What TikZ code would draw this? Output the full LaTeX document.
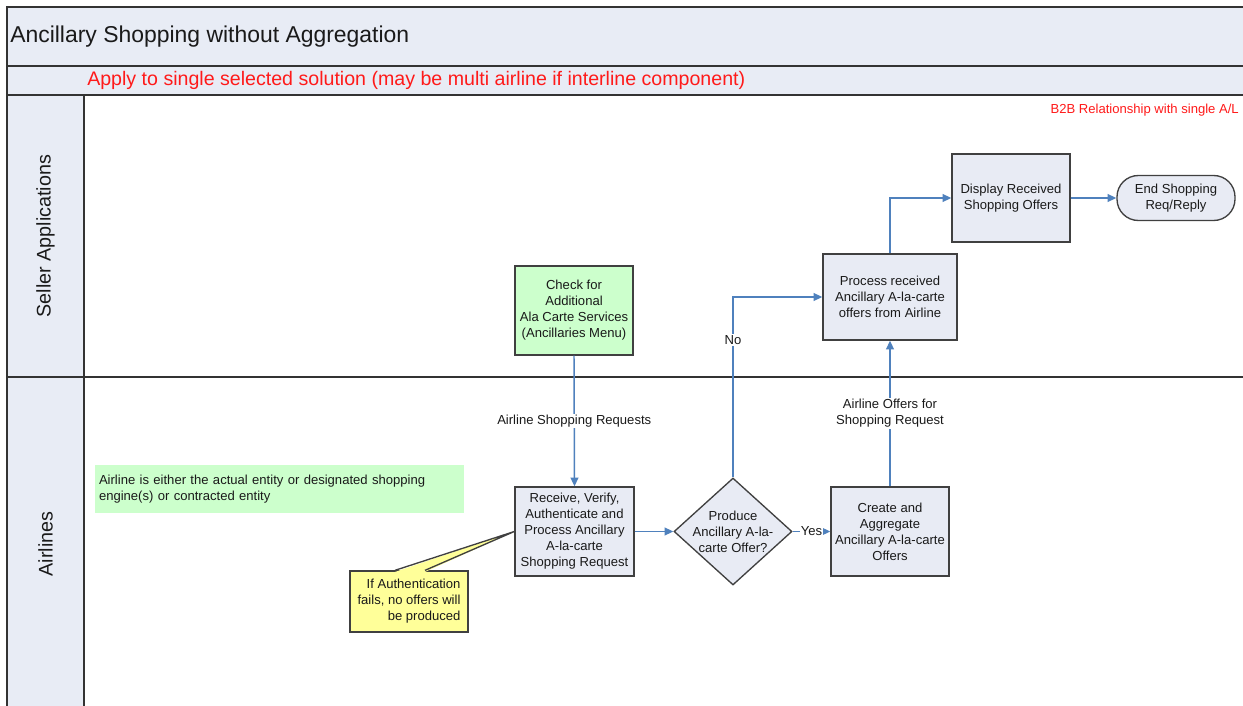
\documentclass[tikz,border=0pt]{standalone}
\usepackage{fontspec}
\setmainfont{Liberation Sans}
\usetikzlibrary{arrows.meta,shapes.geometric,calc}

\definecolor{lanefill}{HTML}{E8ECF5}
\definecolor{boxfill}{HTML}{E8EBF4}
\definecolor{greenfill}{HTML}{CCFFCC}
\definecolor{notefill}{HTML}{FFFF99}
\definecolor{flow}{HTML}{4F81BD}
\definecolor{framecol}{HTML}{333333}
\definecolor{boxline}{HTML}{404040}
\definecolor{alert}{HTML}{FF1A1A}
\definecolor{txt}{HTML}{1A1A1A}

\begin{document}
\begin{tikzpicture}[x=0.75pt,y=-0.75pt,
  every node/.style={font=\fontsize{9.8}{12}\selectfont, text=txt},
  procbox/.style={draw=boxline, line width=1pt, fill=boxfill, align=center,
    inner sep=2pt, minimum width=88.5pt, minimum height=66.75pt},
  menubox/.style={procbox, fill=greenfill},
  decision/.style={diamond, draw=boxline, line width=1pt, fill=boxfill,
    inner sep=0pt, minimum width=88.5pt, minimum height=80.25pt},
  terminal/.style={draw=boxline, line width=1pt, fill=boxfill, align=center,
    rounded corners=16pt, minimum width=88.5pt, minimum height=33.75pt},
  flowline/.style={draw=flow, line width=1.1pt, -{Triangle[length=6.5pt,width=5.8pt]}},
  flowlabel/.style={fill=white, inner sep=1pt, align=center},
  lanetitle/.style={rotate=90, font=\fontsize{14.8}{17}\selectfont},
  framerule/.style={draw=framecol, line width=1.2pt}
]
% page area
\clip (0,0) rectangle (1243,706);
\fill[white] (0,0) rectangle (1243,706);

% pool frame: title band, subtitle band, lane header column
\filldraw[fill=lanefill, framerule] (7,7) rectangle (1260,66);
\filldraw[fill=lanefill, framerule] (7,66) rectangle (1260,95);
\filldraw[fill=lanefill, framerule] (7,95) rectangle (84,720);
\draw[framerule] (84,95) -- (1260,95);
\draw[framerule] (7,377) -- (1260,377);

\node[anchor=west, inner sep=0pt, font=\fontsize{17.2}{20}\selectfont] (title) at (10,37)
  {Ancillary Shopping without Aggregation};
\node[anchor=west, inner sep=0pt, text=alert, font=\fontsize{14.7}{17}\selectfont] (scope) at (87,80)
  {Apply to single selected solution (may be multi airline if interline component)};
\node[anchor=east, inner sep=0pt, text=alert, font=\fontsize{9.8}{12}\selectfont] (rel) at (1239,110)
  {B2B Relationship with single A/L};

% lane names
\node[lanetitle] (seller) at (45.5,236) {Seller Applications};
\node[lanetitle] (airlines) at (45.5,544) {Airlines};

% note on the airline lane
\node[fill=greenfill, minimum width=276.75pt, minimum height=36pt, inner xsep=3pt,
  text width=270.75pt, align=left] (entity) at (279.5,489)
  {Airline is either the actual entity or designated shopping\\engine(s) or contracted entity};

% process steps
\node[menubox] (chk) at (574,310.5) {Check for\\Additional\\Ala Carte Services\\(Ancillaries Menu)};
\node[procbox, minimum width=89.25pt] (rcv) at (574.5,531.5)
  {Receive, Verify,\\Authenticate and\\Process Ancillary\\A-la-carte\\Shopping Request};
\node[decision, label={[align=center, text=txt]center:Produce\\Ancillary A-la-\\carte Offer?}]
  (dec) at (733,531.5) {};
\node[procbox] (crt) at (890,531.5) {Create and\\Aggregate\\Ancillary A-la-carte\\Offers};
\node[procbox, minimum width=100.5pt, minimum height=64.5pt] (prc) at (890,297)
  {Process received\\Ancillary A-la-carte\\offers from Airline};
\node[procbox, minimum height=66pt] (dsp) at (1011,198) {Display Received\\Shopping Offers};
\node[terminal] (fin) at (1176,198) {End Shopping\\Req/Reply};

% authentication remark with pointer
\node[draw=boxline, line width=1pt, fill=notefill, align=right, minimum width=88.5pt,
  minimum height=45.75pt, inner xsep=3pt] (auth) at (409,601.5)
  {If Authentication\\fails, no offers will\\be produced};
\fill[notefill] ($(auth.north)+(-14,1.6)$) -- (rcv.west) -- ($(auth.north)+(16,1.6)$) -- cycle;
\draw[boxline, line width=1pt] ($(auth.north)+(-14,0)$) -- (rcv.west) -- ($(auth.north)+(16,0)$);

% flow
\draw[flowline] (chk.south) -- node[flowlabel] {Airline Shopping Requests} (rcv.north);
\draw[flowline] (rcv.east) -- (dec.west);
\draw[flowline] (dec.east) -- node[flowlabel, inner sep=0.5pt] {Yes} (crt.west);
\draw[flowline] (dec.north) |- node[flowlabel, pos=0.38] {No} (prc.west);
\draw[flowline] (crt.north) -- node[flowlabel] {Airline Offers for\\Shopping Request} (prc.south);
\draw[flowline] (prc.north) |- (dsp.west);
\draw[flowline] (dsp.east) -- (fin.west);
\end{tikzpicture}
\end{document}
